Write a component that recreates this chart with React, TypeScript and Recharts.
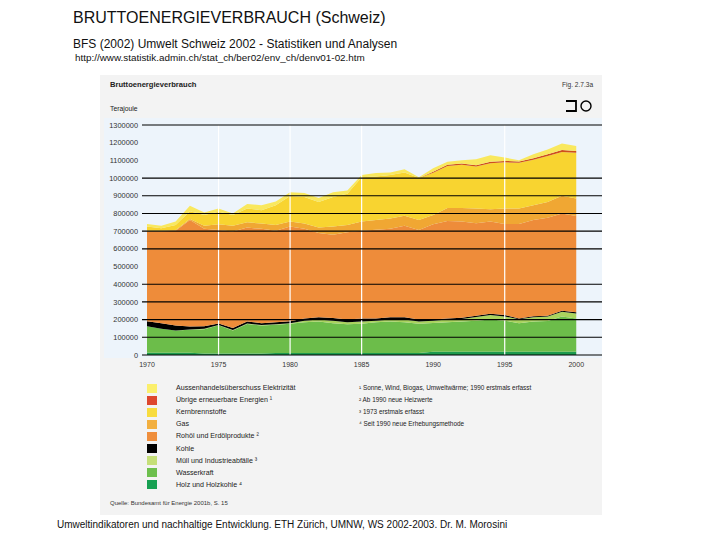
import React from 'react';
import { AreaChart, Area, XAxis, YAxis, ReferenceLine } from 'recharts';

// Terajoule, 1970-2000 (stack order bottom -> top)
const years = [
  1970, 1971, 1972, 1973, 1974, 1975, 1976, 1977, 1978, 1979,
  1980, 1981, 1982, 1983, 1984, 1985, 1986, 1987, 1988, 1989,
  1990, 1991, 1992, 1993, 1994, 1995, 1996, 1997, 1998, 1999, 2000,
];

const holz = [
  13000, 13000, 13000, 13000, 9000, 9000, 9000, 9000, 9000, 12000,
  12000, 12000, 12000, 12000, 12000, 12000, 12000, 12000, 12000, 12000,
  18000, 18000, 18000, 18000, 18000, 18000, 18000, 18000, 18000, 18000, 18000,
];
const wasser = [
  150000, 135000, 126000, 130000, 137000, 159000, 130000, 166000, 158000, 159000,
  164000, 173000, 177000, 168000, 162000, 164000, 173000, 177000, 173000, 164000,
  163000, 167000, 171000, 176000, 182000, 176000, 162000, 171000, 174000, 200000, 189000,
];
const muell = [
  0, 0, 0, 1000, 2000, 2000, 2000, 3000, 3000, 3000,
  4000, 9000, 11000, 14000, 11000, 13000, 9000, 11000, 15000, 13000,
  12000, 15000, 15000, 21000, 26000, 24000, 22000, 24000, 25000, 26000, 28000,
];
const kohle = [
  28000, 32000, 28000, 17000, 15000, 8000, 11000, 11000, 10000, 11000,
  11000, 13000, 13000, 15000, 15000, 18000, 13000, 13000, 13000, 11000,
  7000, 7000, 7000, 7000, 7000, 8000, 5000, 6000, 5000, 6000, 6000,
];
const oel = [
  507000, 518000, 535000, 602000, 550000, 529000, 546000, 531000, 533000, 517000,
  535000, 506000, 476000, 471000, 494000, 495000, 501000, 500000, 518000, 507000,
  539000, 550000, 543000, 522000, 521000, 515000, 534000, 544000, 554000, 550000, 544000,
];
const gas = [
  4000, 4000, 5000, 6000, 17000, 32000, 33000, 30000, 30000, 33000,
  28000, 30000, 31000, 46000, 41000, 53000, 55000, 59000, 56000, 56000,
  52000, 74000, 77000, 84000, 70000, 87000, 87000, 83000, 89000, 100000, 100000,
];
const kern = [
  24000, 15000, 28000, 44000, 61000, 70000, 60000, 78000, 75000, 111000,
  144000, 150000, 145000, 167000, 176000, 249000, 246000, 245000, 244000, 237000,
  239000, 237000, 244000, 238000, 260000, 261000, 258000, 257000, 260000, 248000, 258000,
];
const uebrige = [
  0, 0, 0, 0, 0, 0, 0, 0, 0, 0,
  0, 0, 0, 0, 0, 0, 0, 0, 0, 0,
  6000, 7000, 7000, 7000, 8000, 8000, 8000, 9000, 9000, 10000, 10000,
];
const aussen = [
  15000, 13000, 19000, 30000, 15000, 19000, 9000, 26000, 28000, 22000,
  22000, 22000, 22000, 27000, 19000, 13000, 19000, 14000, 19000, 5000,
  19000, 17000, 19000, 33000, 37000, 19000, 7000, 22000, 28000, 37000, 28000,
];

const yTicks = [0, 100000, 200000, 300000, 400000, 500000, 600000, 700000, 800000, 900000, 1000000, 1100000, 1200000, 1300000];
const gridValues = [0, 100000, 200000, 300000, 400000, 600000, 700000, 800000, 900000, 1000000, 1300000];
const xTicks = [1970, 1975, 1980, 1985, 1990, 1995, 2000];
const whiteYears = [1975, 1980, 1985, 1995];

const series = [
  { key: 'holz', label: 'Holz und Holzkohle ⁴', fill: '#1b9a4e', swatch: '#17a052' },
  { key: 'wasser', label: 'Wasserkraft', fill: '#6cbd4a', swatch: '#6dbf4d' },
  { key: 'muell', label: 'Müll und Industrieabfälle ³', fill: '#aad35e', swatch: '#c5df78' },
  { key: 'kohle', label: 'Kohle', fill: '#000000', swatch: '#000000' },
  { key: 'oel', label: 'Rohöl und Erdölprodukte ²', fill: '#ee8c3a', swatch: '#ef8e3c' },
  { key: 'gas', label: 'Gas', fill: '#f0a733', swatch: '#f2af3f' },
  { key: 'kern', label: 'Kernbrennstoffe', fill: '#f8d430', swatch: '#f8dc3e' },
  { key: 'uebrige', label: 'Übrige erneuerbare Energien ¹', fill: '#cf4f1c', swatch: '#de472e' },
  { key: 'aussen', label: 'Aussenhandelsüberschuss Elektrizität', fill: '#f9e85e', swatch: '#fbef6c' },
];

const footnotes = [
  '¹ Sonne, Wind, Biogas, Umweltwärme; 1990 erstmals erfasst',
  '² Ab 1990 neue Heizwerte',
  '³ 1973 erstmals erfasst',
  '⁴ Seit 1990 neue Erhebungsmethode',
];

const data = years.map((year, i) => ({
  year,
  holz: holz[i],
  wasser: wasser[i],
  muell: muell[i],
  kohle: kohle[i],
  oel: oel[i],
  gas: gas[i],
  kern: kern[i],
  uebrige: uebrige[i],
  aussen: aussen[i],
}));

const sans = "'Liberation Sans', Arial, sans-serif";

export default function App() {
  const legendRows = [...series].reverse();

  return (
    <div style={{ position: 'absolute', left: 0, top: 0, width: 720, height: 540, background: '#fff', fontFamily: sans, overflow: 'hidden' }}>
      <div style={{ position: 'absolute', left: 73, top: 9, fontSize: 16, color: '#111', whiteSpace: 'nowrap' }}>
        BRUTTOENERGIEVERBRAUCH (Schweiz)
      </div>
      <div style={{ position: 'absolute', left: 73, top: 37, fontSize: 12, color: '#111', whiteSpace: 'nowrap' }}>
        BFS (2002) Umwelt Schweiz 2002 - Statistiken und Analysen
      </div>
      <div style={{ position: 'absolute', left: 75, top: 52, fontSize: 9.9, color: '#111', whiteSpace: 'nowrap' }}>
        http://www.statistik.admin.ch/stat_ch/ber02/env_ch/denv01-02.htm
      </div>

      {/* figure panel */}
      <div style={{ position: 'absolute', left: 100, top: 75, width: 502, height: 440, background: '#f3f3f3' }} />
      <div style={{ position: 'absolute', left: 104, top: 118, width: 498, height: 240, background: '#edf4fb' }} />

      <div style={{ position: 'absolute', left: 110, top: 80, fontSize: 7.6, fontWeight: 'bold', color: '#222', whiteSpace: 'nowrap' }}>
        Bruttoenergieverbrauch
      </div>
      <div style={{ position: 'absolute', left: 562, top: 81, fontSize: 6.6, color: '#333', whiteSpace: 'nowrap' }}>
        Fig. 2.7.3a
      </div>
      <svg style={{ position: 'absolute', left: 560, top: 98 }} width={36} height={18}>
        <polyline points="6,3 16,3 16,13 6,13" fill="none" stroke="#000" strokeWidth={1.8} />
        <circle cx={26} cy={8} r={5} fill="none" stroke="#000" strokeWidth={1.4} />
      </svg>
      <div style={{ position: 'absolute', left: 110, top: 105, fontSize: 6.8, color: '#222', whiteSpace: 'nowrap' }}>
        Terajoule
      </div>

      <div style={{ position: 'absolute', left: 0, top: 0 }}>
        <AreaChart width={720} height={540} data={data} margin={{ top: 125, right: 118, bottom: 165, left: 102 }}>
          <XAxis
            dataKey="year"
            type="number"
            domain={[1969.65, 2001.8]}
            ticks={xTicks}
            axisLine={false}
            tickLine={false}
            tickSize={0}
            tickMargin={7}
            height={20}
            tick={{ fontSize: 7, fill: '#333', fontFamily: sans }}
            allowDataOverflow
          />
          <YAxis
            type="number"
            domain={[0, 1300000]}
            ticks={yTicks}
            axisLine={false}
            tickLine={false}
            tickSize={0}
            tickMargin={4}
            width={40}
            interval={0}
            tick={{ fontSize: 7.4, fill: '#333', fontFamily: sans }}
            tickFormatter={(v: number) => String(v)}
            allowDataOverflow
          />
          {series.map((s) => (
            <Area
              key={s.key}
              type="linear"
              dataKey={s.key}
              stackId="1"
              stroke="none"
              fill={s.fill}
              fillOpacity={1}
              isAnimationActive={false}
              activeDot={false}
            />
          ))}
          {whiteYears.map((y) => (
            <ReferenceLine key={'x' + y} x={y} stroke="#ffffff" strokeWidth={1.2} />
          ))}
          {gridValues.map((v) => (
            <ReferenceLine key={'y' + v} y={v} stroke="#000" strokeWidth={1.1} />
          ))}
        </AreaChart>
      </div>

      {/* legend */}
      {legendRows.map((s, i) => (
        <div key={s.key} style={{ position: 'absolute', left: 147, top: 383 + i * 12.1, height: 10, display: 'flex', alignItems: 'center' }}>
          <div style={{ width: 10, height: 9, background: s.swatch }} />
          <div style={{ marginLeft: 19, fontSize: 7.1, color: '#222', whiteSpace: 'nowrap' }}>{s.label}</div>
        </div>
      ))}
      {footnotes.map((f, i) => (
        <div key={i} style={{ position: 'absolute', left: 359, top: 383 + i * 12.1, height: 10, lineHeight: '10px', fontSize: 6.4, color: '#222', whiteSpace: 'nowrap' }}>
          {f}
        </div>
      ))}
      <div style={{ position: 'absolute', left: 110, top: 500, fontSize: 6, color: '#333', whiteSpace: 'nowrap' }}>
        Quelle: Bundesamt für Energie 2001b, S. 15
      </div>

      <div style={{ position: 'absolute', left: 57, top: 519, fontSize: 10, color: '#111', whiteSpace: 'nowrap' }}>
        Umweltindikatoren und nachhaltige Entwicklung. ETH Zürich, UMNW, WS 2002-2003. Dr. M. Morosini
      </div>
    </div>
  );
}
